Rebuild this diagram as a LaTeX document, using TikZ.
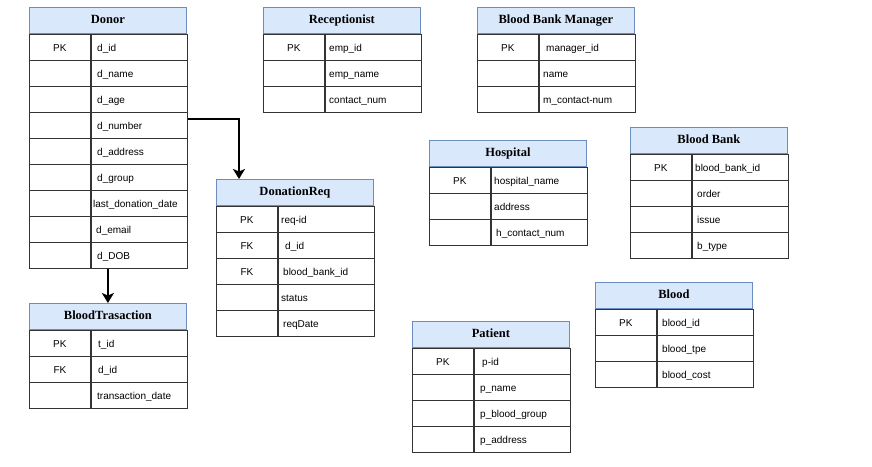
\documentclass[tikz,border=0pt]{standalone}
\usepackage{fontspec}
\setmainfont{Liberation Serif}
\setsansfont{Liberation Sans}
\newfontfamily\hdrfont{Liberation Serif}[BoldFont={Liberation Serif Bold}]
\usetikzlibrary{arrows.meta,calc}

\definecolor{hdrfill}{HTML}{DAE8FC}
\definecolor{hdrline}{HTML}{6C8EBF}
\definecolor{cellline}{HTML}{333333}

\tikzset{
  tblhead/.style={draw=hdrline, fill=hdrfill, line width=0.8pt,
    minimum width=157pt, minimum height=26pt, inner sep=0pt, anchor=north west,
    font=\hdrfont\bfseries\fontsize{12.5}{14}\selectfont, text height=9pt, text depth=2.4pt},
  keycell/.style={draw=cellline, line width=0.8pt,
    minimum width=61pt, minimum height=26pt, inner sep=0pt, anchor=north west,
    font=\sffamily\fontsize{10}{12}\selectfont, text height=10pt, text depth=2pt},
  fieldcell/.style={keycell, minimum width=96pt},
  conn/.style={line width=2pt, -{Stealth[length=10pt,width=12pt,inset=2.5pt]}}
}

% table: name, x, y (top left), title, rows as key/field/text-indent
\newcommand\ertable[5]{%
  \node[tblhead] (#1-h) at (#2,#3) {#4};
  \foreach \kk/\ff/\oo [count=\i] in {#5} {
    \node[keycell] (#1-k\i) at ($(#1-h.south west)+(0,{26*(\i-1)})$) {\kk};
    \node[fieldcell] (#1-f\i) at (#1-k\i.north east) {\makebox[96pt][l]{\hspace{\oo pt}\ff}};
  }%
}

\begin{document}
\begin{tikzpicture}[x=1pt,y=-1pt]
  \useasboundingbox (0,0) rectangle (872,466);

  \ertable{donor}{29}{7}{Donor}{PK/d\_id/6, /d\_name/6, /d\_age/6, /d\_number/6,
    /d\_address/6, /d\_group/6, /last\_donation\_date/2, /d\_email/5, /d\_DOB/6}
  \ertable{recp}{263}{7}{Receptionist}{PK/emp\_id/4, /emp\_name/4, /contact\_num/4}
  \ertable{bbm}{477}{7}{Blood Bank Manager}{PK/manager\_id/7, /name/4, /m\_contact-num/4}
  \ertable{hosp}{429}{140}{Hospital}{PK/hospital\_name/3, /address/3, /h\_contact\_num/5}
  \ertable{bbank}{630}{127}{Blood Bank}{PK/blood\_bank\_id/3, /order/5, /issue/5, /b\_type/5}
  \ertable{dreq}{216}{179}{DonationReq}{PK/req-id/3, FK/d\_id/7, FK/blood\_bank\_id/5,
    /status/3, /reqDate/5}
  \ertable{blood}{595}{282}{Blood}{PK/blood\_id/5, /blood\_tpe/5, /blood\_cost/5}
  \ertable{pat}{412}{321}{Patient}{PK/p-id/8, /p\_name/6, /p\_blood\_group/6, /p\_address/6}
  \ertable{btr}{29}{303}{BloodTrasaction}{PK/t\_id/7, FK/d\_id/7, /transaction\_date/6}

  % relationships
  \draw[conn] ([yshift=6pt]donor-f4.east) -| ([xshift=23pt]dreq-h.north west);
  \draw[conn] (donor-h.north |- donor-f9.south) -- (btr-h.north);
\end{tikzpicture}
\end{document}
